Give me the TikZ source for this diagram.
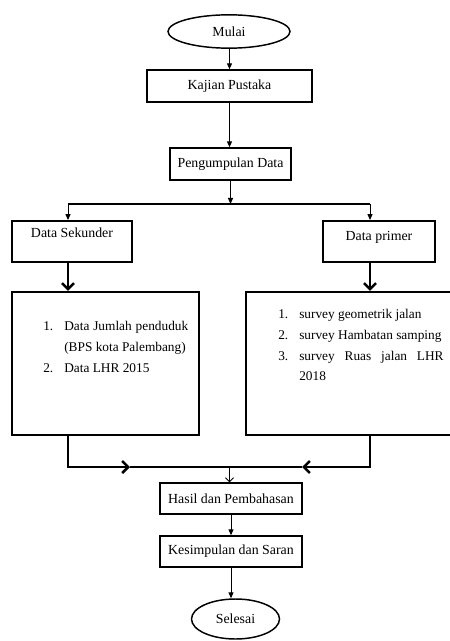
\documentclass[tikz,border=0pt]{standalone}
\usepackage{fontspec}
\setmainfont{Liberation Serif}
\usepackage{tikz}
\usetikzlibrary{arrows.meta,shapes.geometric,calc}

\begin{document}
\begin{tikzpicture}[x=0.75pt,y=-0.75pt,font=\fontsize{10.4}{12}\selectfont,>=Stealth,
  box/.style={draw,line width=1.1pt,inner sep=0pt,minimum height=24pt},
  datbox/.style={draw,line width=1.4pt,inner sep=0pt,minimum height=30.75pt},
  bigbox/.style={draw,line width=1.6pt,inner sep=0pt,minimum height=107.25pt},
  term/.style={draw,ellipse,line width=1.1pt,inner sep=0pt},
  listtxt/.style={inner sep=0pt,align=justify,font=\fontsize{10}{15.6}\selectfont},
  arr/.style={-{Triangle[length=4.5pt,width=3.8pt]},line width=0.75pt},
  thinv/.style={-{Straight Barb[length=3pt,width=6pt]},line width=0.6pt},
  thickarr/.style={-{Straight Barb[length=4.5pt,width=9pt]},line width=1.9pt}]
  \useasboundingbox (0,0) rectangle (449,641);
  % start and literature study
  \node[term,minimum width=91.5pt,minimum height=25pt] (mulai) at (229,31.5) {Mulai};
  \node[box,minimum width=123.75pt] (kajian) at (229.5,86) {Kajian Pustaka};
  \node[box,minimum width=90.75pt] (kumpul) at (230.5,164) {Pengumpulan Data};
  \draw[arr] (mulai.south -| kajian.north) -- (kajian.north);
  \draw[arr] (kajian.south) -- (kajian.south |- kumpul.north);
  % split into the two data sources
  \coordinate (split) at (229.5,204);
  \coordinate (barL) at (68,204);
  \coordinate (barR) at (370,204);
  \node[datbox,minimum width=90pt,text height=12.5pt,text depth=18.25pt] (sekunder) at (72,241.5) {Data Sekunder};
  \node[datbox,minimum width=84pt,text height=15pt,text depth=15.75pt] (primer) at (379,241.5) {Data primer};
  \draw[arr] (kumpul.south) -- (kumpul.south |- split);
  \draw[line width=1.8pt] (barL) -- (barR);
  \draw[arr] (barL) -- (barL |- sekunder.north);
  \draw[arr] (barR) -- (barR |- primer.north);
  % data boxes
  \node[bigbox,minimum width=140.25pt] (kirilist) at (105.5,363.5) {};
  \node[bigbox,minimum width=153.75pt] (kananlist) at (348.5,363.5) {};
  \node[listtxt,text width=108.75pt,anchor=north west] (sektxt) at (43,321) {%
    \hangindent=15.75pt\makebox[15.75pt][l]{1.}Data Jumlah penduduk (BPS kota Palembang)\par
    \hangindent=15.75pt\makebox[15.75pt][l]{2.}Data LHR 2015\par};
  \node[listtxt,text width=124pt,anchor=north west] (pritxt) at (278,309) {%
    \hangindent=15.75pt\makebox[15.75pt][l]{1.}survey geometrik jalan\par
    \hangindent=15.75pt\makebox[15.75pt][l]{2.}survey Hambatan samping\par
    \hangindent=15.75pt\makebox[15.75pt][l]{3.}survey Ruas jalan LHR 2018\par};
  \draw[thickarr] (sekunder.south -| barL) -- (kirilist.north -| barL);
  \draw[thickarr] (primer.south -| barR) -- (kananlist.north -| barR);
  % merge
  \coordinate (joinL) at (130,467);
  \coordinate (joinR) at (302,467);
  \coordinate (join) at (229.5,467);
  \draw[thickarr] (kirilist.south -| barL) |- (joinL);
  \draw[thickarr] (kananlist.south -| barR) |- (joinR);
  \draw[line width=1.9pt] (joinL) -- (joinR);
  % results and end
  \node[box,minimum width=106.5pt,minimum height=23.25pt] (hasil) at (231,498.5) {Hasil dan Pembahasan};
  \node[box,minimum width=106.5pt,minimum height=23.25pt] (simpul) at (231,551.5) {Kesimpulan dan Saran};
  \node[term,minimum width=66pt,minimum height=30pt] (selesai) at (235.5,619) {Selesai};
  \draw[thinv] (join) -- (join |- hasil.north);
  \draw[arr] (hasil.south) -- (hasil.south |- simpul.north);
  \draw[arr] (simpul.south) -- (simpul.south |- selesai.north);
\end{tikzpicture}
\end{document}
